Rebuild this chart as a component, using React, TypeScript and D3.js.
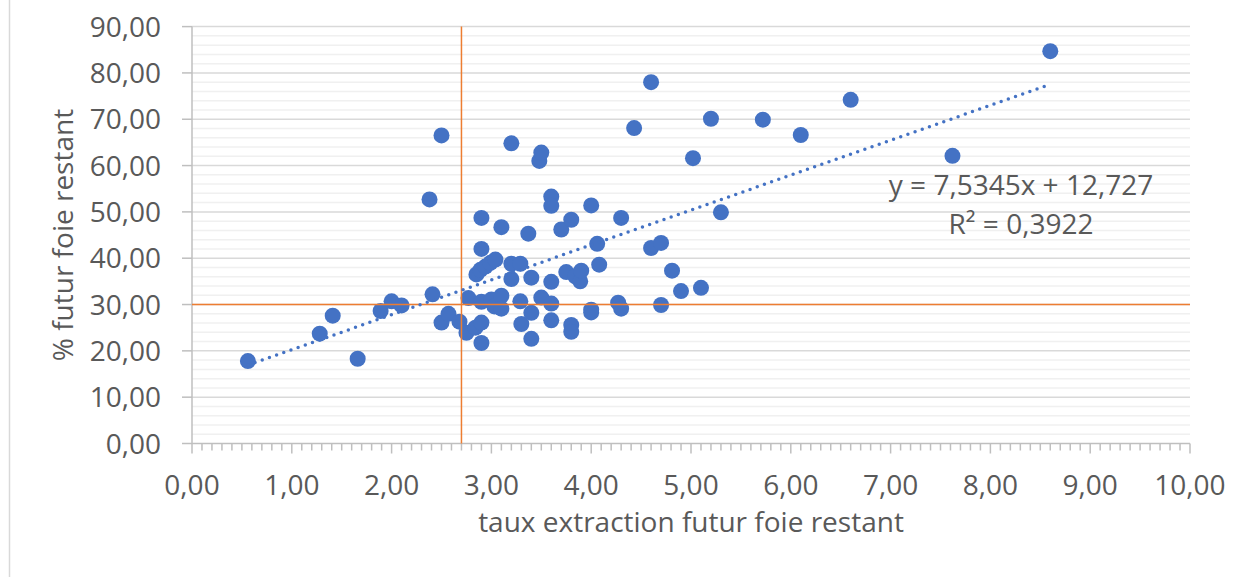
import * as d3 from "d3";
import React, { useEffect, useRef } from "react";

// taux extraction futur foie restant (x) / % futur foie restant (y)
const tauxExtraction = [
  0.56, 1.28, 1.41, 1.66, 1.89, 2.0, 2.1, 2.38, 2.41, 2.5, 2.5, 2.57, 2.68,
  2.75, 2.77, 2.84, 2.85, 2.89, 2.9, 2.9, 2.9, 2.9, 2.9, 2.94, 2.99, 3.0, 3.03, 3.04, 3.1, 3.1, 3.1,
  3.2, 3.2, 3.29, 3.2, 3.29, 3.3, 3.37, 3.4, 3.4, 3.4, 3.48, 3.5, 3.5,
  3.6, 3.6, 3.6, 3.6, 3.6, 3.7, 3.75, 3.8, 3.8, 3.8, 3.84, 3.89, 3.9, 4.0, 4.0, 4.0, 4.06, 4.08,
  4.27, 4.3, 4.3, 4.43, 4.6, 4.6, 4.7, 4.7, 4.81, 4.9, 5.02, 5.1, 5.2, 5.3, 5.72, 6.1, 6.6, 7.62, 8.6,
];
const futurFoieRestant = [
  17.8, 23.7, 27.6, 18.3, 28.6, 30.7, 29.8, 52.7, 32.2, 66.5, 26.1, 28.0, 26.3,
  23.9, 31.4, 25.0, 36.5, 37.5, 48.7, 42.0, 30.6, 26.1, 21.7, 38.2, 39.0, 31.1, 29.6, 39.7, 46.7, 31.9, 29.1,
  64.8, 38.8, 38.8, 35.5, 30.7, 25.8, 45.3, 35.8, 28.2, 22.6, 61.0, 62.8, 31.5,
  53.3, 51.3, 34.9, 30.2, 26.6, 46.2, 37.0, 48.3, 25.6, 24.1, 36.1, 35.0, 37.3, 51.4, 28.9, 28.3, 43.1, 38.6,
  30.4, 48.7, 29.1, 68.1, 78.0, 42.2, 43.3, 29.9, 37.3, 32.9, 61.6, 33.6, 70.1, 49.9, 69.9, 66.6, 74.2, 62.1, 84.7,
];

// courbe de tendance linéaire (affichée sur le graphique)
const trendSlope = 7.5345;
const trendIntercept = 12.727;
const trendLabels = ["y = 7,5345x + 12,727", "R² = 0,3922"];

// seuils (lignes orange)
const seuilX = 2.7;
const seuilY = 30;

const xTicks = d3.range(0, 11, 1);
const yTicks = d3.range(0, 100, 10);

const fmt = (v: number) => v.toFixed(2).replace(".", ",");

const App = () => {
  const svgRef = useRef(null);
  const w = 1245;
  const h = 577;
  const left = 192;
  const right = 1190;
  const top = 26.6;
  const bottom = 443.5;

  useEffect(() => {
    const svg = d3.select(svgRef.current);
    svg.selectAll("*").remove();

    const xScale = d3.scaleLinear().domain([0, 10]).range([left, right]);
    const yScale = d3.scaleLinear().domain([0, 90]).range([bottom, top]);
    const font = "'Open Sans', sans-serif";
    const grey = "#595959";

    // bordure de la zone graphique
    svg.append("line")
      .attr("x1", 9.5).attr("x2", 9.5).attr("y1", 0).attr("y2", h)
      .attr("stroke", "#d9d9d9").attr("stroke-width", 1.5);

    // quadrillage secondaire
    svg.append("g").selectAll("line")
      .data(d3.range(0, 90, 2).filter((d) => d % 10 != 0))
      .enter().append("line")
      .attr("x1", left).attr("x2", right)
      .attr("y1", (d) => yScale(d)).attr("y2", (d) => yScale(d))
      .attr("stroke", "#f0f0f0").attr("stroke-width", 1.5);

    // quadrillage principal
    svg.append("g").selectAll("line")
      .data(yTicks.filter((d) => d > 0))
      .enter().append("line")
      .attr("x1", left).attr("x2", right)
      .attr("y1", (d) => yScale(d)).attr("y2", (d) => yScale(d))
      .attr("stroke", "#d9d9d9").attr("stroke-width", 1.5);

    // axe y
    svg.append("line")
      .attr("x1", left).attr("x2", left).attr("y1", top).attr("y2", bottom)
      .attr("stroke", "#bfbfbf").attr("stroke-width", 1.5);
    svg.append("g").selectAll("line")
      .data(yTicks)
      .enter().append("line")
      .attr("x1", left - 10).attr("x2", left)
      .attr("y1", (d) => yScale(d)).attr("y2", (d) => yScale(d))
      .attr("stroke", "#bfbfbf").attr("stroke-width", 1.5);
    svg.append("g").selectAll("text")
      .data(yTicks)
      .enter().append("text")
      .attr("x", 161).attr("y", (d) => yScale(d)).attr("dy", "0.36em")
      .attr("text-anchor", "end")
      .attr("font-family", font).attr("font-size", 28).attr("fill", grey)
      .text((d) => fmt(d));

    // axe x
    svg.append("line")
      .attr("x1", left).attr("x2", right).attr("y1", bottom).attr("y2", bottom)
      .attr("stroke", "#bfbfbf").attr("stroke-width", 1.5);
    svg.append("g").selectAll("line")
      .data(d3.range(0, 101, 1))
      .enter().append("line")
      .attr("x1", (d) => xScale(d / 10)).attr("x2", (d) => xScale(d / 10))
      .attr("y1", bottom).attr("y2", (d) => (d % 10 == 0 ? bottom + 10 : bottom + 7))
      .attr("stroke", "#bfbfbf").attr("stroke-width", 1.5);
    svg.append("g").selectAll("text")
      .data(xTicks)
      .enter().append("text")
      .attr("x", (d) => xScale(d)).attr("y", 495)
      .attr("text-anchor", "middle")
      .attr("font-family", font).attr("font-size", 28).attr("fill", grey)
      .text((d) => fmt(d));

    // titres des axes
    svg.append("text")
      .attr("x", (left + right) / 2).attr("y", 532)
      .attr("text-anchor", "middle")
      .attr("font-family", font).attr("font-size", 28).attr("fill", grey)
      .text("taux extraction futur foie restant");
    svg.append("text")
      .attr("transform", "translate(73," + (top + bottom) / 2 + ") rotate(-90)")
      .attr("text-anchor", "middle")
      .attr("font-family", font).attr("font-size", 28).attr("fill", grey)
      .text("% futur foie restant");

    // points
    const data = tauxExtraction.map((x, i) => ({ x, y: futurFoieRestant[i] }));
    svg.append("g").selectAll("circle")
      .data(data)
      .enter().append("circle")
      .attr("cx", (d) => xScale(d.x)).attr("cy", (d) => yScale(d.y))
      .attr("r", 8)
      .attr("fill", "#4472c4");

    // seuils
    svg.append("line")
      .attr("x1", left).attr("x2", right)
      .attr("y1", yScale(seuilY)).attr("y2", yScale(seuilY))
      .attr("stroke", "#ed7d31").attr("stroke-width", 1.5);
    svg.append("line")
      .attr("x1", xScale(seuilX)).attr("x2", xScale(seuilX))
      .attr("y1", top).attr("y2", bottom)
      .attr("stroke", "#ed7d31").attr("stroke-width", 1.5);

    // tendance
    const [xmin, xmax] = d3.extent(tauxExtraction) as [number, number];
    const line = d3.line<number>()
      .x((d) => xScale(d))
      .y((d) => yScale(trendSlope * d + trendIntercept));
    svg.append("path")
      .attr("d", line([xmin, xmax]))
      .attr("fill", "none")
      .attr("stroke", "#4472c4").attr("stroke-width", 3.5)
      .attr("stroke-linecap", "round")
      .attr("stroke-dasharray", "0 7.6");

    svg.append("g").selectAll("text")
      .data(trendLabels)
      .enter().append("text")
      .attr("x", 1021).attr("y", (d, i) => 195 + i * 39)
      .attr("text-anchor", "middle")
      .attr("font-family", font).attr("font-size", 28).attr("fill", grey)
      .text((d) => d);
  });

  return (
    <svg
      ref={svgRef}
      width={w}
      height={h}
      style={{ position: "absolute", left: 0, top: 0, background: "#fff" }}
    />
  );
};

export default App;
